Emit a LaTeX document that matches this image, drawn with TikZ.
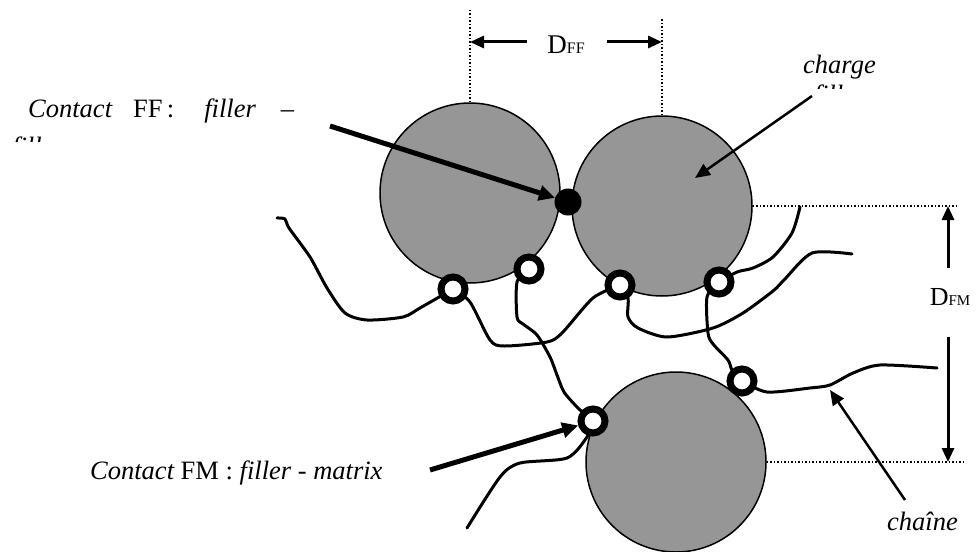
\documentclass[tikz,border=0pt]{standalone}
\usepackage{fontspec}
\setmainfont{Liberation Serif}
\usetikzlibrary{arrows.meta,positioning,calc}
\definecolor{Filler}{HTML}{969696}

\begin{document}
\begin{tikzpicture}[x=1pt,y=-1pt,
  particle/.style={circle,draw,line width=1.5pt,fill=Filler,minimum size=180pt,inner sep=0pt},
  ring/.style={circle,draw,line width=7pt,fill=white,minimum size=24pt,inner sep=0pt},
  contact/.style={circle,fill=black,minimum size=27pt,inner sep=0pt},
  chain/.style={line width=3pt,line join=round,line cap=round},
  guide/.style={dotted,line width=1.5pt},
  bigarr/.style={-{Triangle[length=16pt,width=15pt]},line width=5pt},
  thinarr/.style={-{Triangle[length=15pt,width=13pt]},line width=2.5pt},
  dimarr/.style={-{Triangle[length=14pt,width=12pt]},line width=3pt},
  lbl/.style={font=\fontsize{26.5}{30}\selectfont\itshape,inner sep=0pt,anchor=base west},
  dimlbl/.style={inner sep=0pt,anchor=base}
]
  \useasboundingbox (0,0) rectangle (976,551);

  % filler particles
  \node[particle] (pA) at (470,193) {};
  \node[particle] (pB) at (662,206) {};
  \node[particle] (pC) at (676,462) {};

  % contact points
  \coordinate (r1) at (453,289);
  \coordinate (r2) at (529,269);
  \coordinate (r3) at (620,285);
  \coordinate (r4) at (719,282);
  \coordinate (r5) at (742,381);
  \coordinate (r6) at (593,421);

  % polymer chains
  \draw[chain] plot[smooth,tension=0.45] coordinates {(277,218) (285,219) (289,228) (310,257) (327,288) (345,313) (367,320) (403,317) (420,308) (r1)};
  \draw[chain] plot[smooth,tension=0.45] coordinates {(r1) (470,302) (490,340) (504,346) (547,342) (562,333) (593,298) (r3)};
  \draw[chain] plot[smooth,tension=0.45] coordinates {(r2) (517,282) (517,317) (523,324) (537,335) (550,357) (557,375) (564,392) (578,408) (r6)};
  \draw[chain] plot[smooth,tension=0.45] coordinates {(r3) (628,298) (628,317) (638,328) (667,337) (713,328) (743,313) (773,291) (784,280) (812,253) (852,254)};
  \draw[chain] plot[smooth,tension=0.45] coordinates {(r4) (737,272) (753,268) (773,257) (792,233) (800,207)};
  \draw[chain] plot[smooth,tension=0.45] coordinates {(r4) (707,297) (708,333) (713,344) (728,360) (732,370) (r5)};
  \draw[chain] plot[smooth,tension=0.45] coordinates {(r5) (767,392) (810,388) (830,385) (853,373) (880,365) (937,368)};
  \draw[chain] plot[smooth,tension=0.45] coordinates {(r6) (587,437) (567,458) (520,463) (500,477) (467,528)};

  \foreach \r in {1,...,6}
    \node[ring] (ring\r) at (r\r) {};
  \node[contact] (ffDot) at (568,202) {};

  % dimensions
  \draw[guide] (pA.north) -- ++(0,-93) coordinate (gA);
  \draw[guide] (pB.north) -- ++(0,-97) coordinate (gB);
  \draw[guide] (pB.east) -- (958,206) coordinate (gC);
  \draw[guide] (pC.east) -- (966,462) coordinate (gD);
  \node[dimlbl] (dff) at (566,53) {\fontsize{27}{27}\selectfont D\fontsize{16}{16}\selectfont FF};
  \draw[dimarr] ([xshift=-20pt]dff.west |- 0,42) -- (pA.north |- 0,42);
  \draw[dimarr] ([xshift=22pt]dff.east |- 0,42) -- (pB.north |- 0,42);
  \node[dimlbl] (dfm) at (950,305) {\fontsize{26}{26}\selectfont D\fontsize{15}{15}\selectfont FM};
  \draw[dimarr] (948,268) -- (948,206);
  \draw[dimarr] (948,337) -- (948,462);

  % labels
  \node[lbl] (ffText) at (28,117) {Contact\hspace{21pt}{\upshape FF\,:}\hspace{30pt}filler\hspace{25pt}–};
  \begin{scope}
    \clip (0,128) rectangle (200,141);
    \node[lbl] (ffWrap) at (12,155) {filler};
  \end{scope}
  \node[lbl] (fmText) at (90,479) {Contact {\upshape FM :} filler - matrix};
  \node[lbl] (chargeText) at (803,74) {charge};
  \begin{scope}
    \clip (780,83) rectangle (900,88);
    \node[lbl,anchor=base] (chargeWrap) at (chargeText.base |- 0,103) {filler};
  \end{scope}
  \node[lbl] (chainText) at (887,530) {chaîne};

  % pointers
  \coordinate (ffStart) at (330,126);
  \coordinate (fmStart) at (430,470);
  \coordinate (chargeStart) at (812,96);
  \coordinate (chargeTip) at (695,178);
  \coordinate (chainStart) at (905,500);
  \coordinate (chainTip) at (830,390);
  \draw[bigarr] (ffStart) -- (ffDot);
  \draw[bigarr] (fmStart) -- (ring6);
  \draw[thinarr] (chargeStart) -- (chargeTip);
  \draw[thinarr] (chainStart) -- (chainTip);
\end{tikzpicture}
\end{document}
